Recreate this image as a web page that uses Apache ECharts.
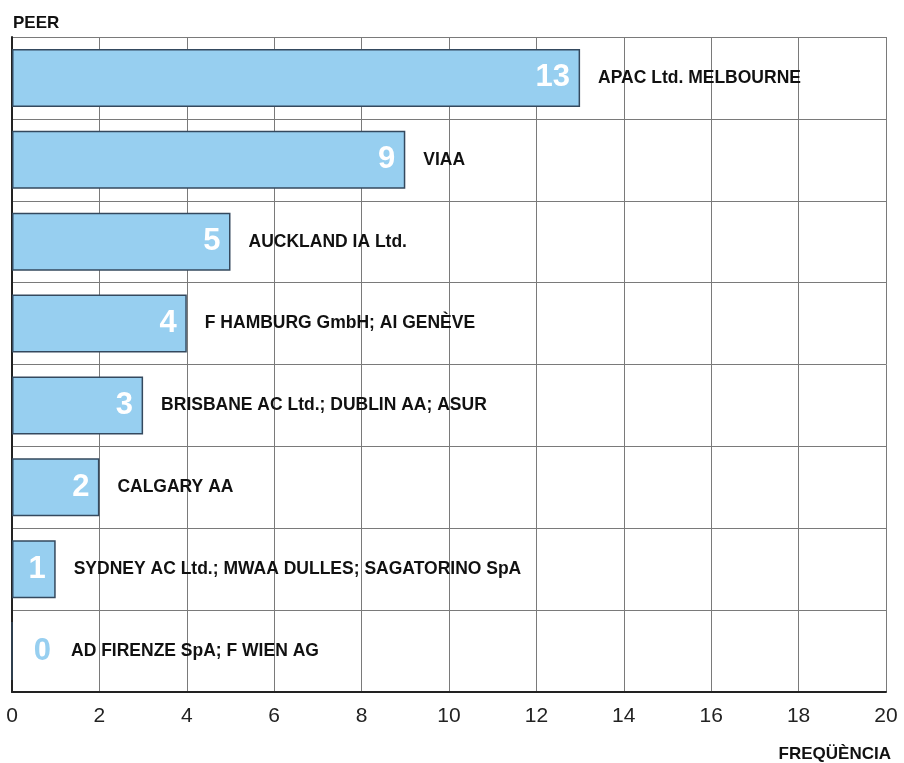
<!DOCTYPE html>
<html><head><meta charset="utf-8">
<script src="https://cdn.jsdelivr.net/npm/echarts@6/dist/echarts.min.js"></script>
<style>html,body{margin:0;padding:0;background:#fff}#c{width:904px;height:763px}</style>
</head><body><div id="c"></div>
<script>
const peers = [
  "APAC Ltd. MELBOURNE",
  "VIAA",
  "AUCKLAND IA Ltd.",
  "F HAMBURG GmbH; AI GENÈVE",
  "BRISBANE AC Ltd.; DUBLIN AA; ASUR",
  "CALGARY AA",
  "SYDNEY AC Ltd.; MWAA DULLES; SAGATORINO SpA",
  "AD FIRENZE SpA; F WIEN AG"
];
const frequency = [13, 9, 5, 4, 3, 2, 1, 0];
const xTicks = [0, 2, 4, 6, 8, 10, 12, 14, 16, 18, 20];

const FB = '"Liberation Sans", Arial, sans-serif';
const barColor = '#97cff0';

const numData = frequency.map(v => v > 0 ? {
  value: v,
  label: { position: 'insideRight', distance: 10, color: '#ffffff' }
} : {
  value: v,
  label: { position: 'right', distance: 21, color: barColor }
});
const nameData = frequency.map(v => ({
  value: v,
  label: { distance: v > 0 ? 18 : 59 }
}));

const chart = echarts.init(document.getElementById('c'), null, { renderer: 'canvas' });
chart.setOption({
  animation: false,
  backgroundColor: '#ffffff',
  title: [
    { text: 'PEER', left: 8, top: 10, textStyle: { fontFamily: FB, fontWeight: 'bold', fontSize: 17, color: '#111' } },
    { text: 'FREQÜÈNCIA', right: 8, top: 741, textStyle: { fontFamily: FB, fontWeight: 'bold', fontSize: 17, color: '#111' } }
  ],
  grid: { left: 12, right: 18, top: 37, bottom: 71, containLabel: false },
  xAxis: {
    type: 'value', min: 0, max: 20, interval: 2,
    axisLine: { show: true, lineStyle: { color: '#222', width: 2 } },
    axisTick: { show: false },
    axisLabel: { fontFamily: FB, fontSize: 21, color: '#222', margin: 14,
      formatter: v => xTicks.includes(v) ? String(v) : '' },
    splitLine: { show: true, lineStyle: { color: '#7a7a7a', width: 1 } }
  },
  yAxis: {
    type: 'category', data: peers, inverse: true,
    axisLine: { show: true, onZero: false, lineStyle: { color: '#222', width: 2 } },
    axisTick: { show: false },
    axisLabel: { show: false },
    splitLine: { show: true, lineStyle: { color: '#7a7a7a', width: 1 } }
  },
  series: [
    {
      type: 'bar', data: numData, barWidth: 58, barGap: '-100%',
      itemStyle: { color: barColor, borderColor: '#34495e', borderWidth: 1.5 },
      label: { show: true, fontFamily: FB, fontWeight: 'bold', fontSize: 31,
        formatter: p => String(p.value) },
      z: 2
    },
    {
      type: 'bar', data: nameData, barWidth: 58, barGap: '-100%',
      itemStyle: { color: 'rgba(0,0,0,0)' },
      label: { show: true, position: 'right', fontFamily: FB, fontWeight: 'bold', fontSize: 17.5, color: '#111',
        formatter: p => peers[p.dataIndex] },
      silent: true, z: 3
    }
  ]
});
</script></body></html>
